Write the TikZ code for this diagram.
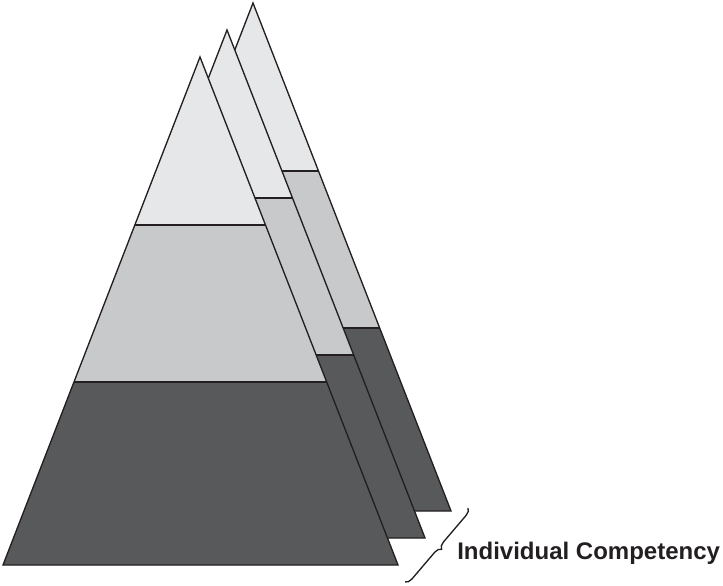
\documentclass[tikz,border=0pt]{standalone}
\usepackage{fontspec}
\setmainfont{Liberation Sans}
\usetikzlibrary{decorations.pathreplacing,positioning}
\definecolor{toplight}{HTML}{E6E7E8}
\definecolor{midgrey}{HTML}{C8C9CB}
\definecolor{basedark}{HTML}{58595B}
\definecolor{inkline}{HTML}{231F20}

\begin{document}
\begin{tikzpicture}[
  x=0.75pt, y=0.75pt,
  outline/.style={draw=inkline, line width=1pt, line join=miter},
  bandline/.style={draw=inkline, line width=1pt},
  brace/.style={draw=inkline, line width=1pt, decorate,
    decoration={brace, amplitude=5pt}},
  caption/.style={font=\fontsize{18}{21}\selectfont\bfseries, text=inkline, inner sep=0pt}
]
\useasboundingbox (0,0) rectangle (723,585);
% three pyramids, back to front
\foreach \dx/\dy in {53/54, 27/27, 0/0}{
  \begin{scope}[shift={(\dx,\dy)}]
    \begin{scope}
      \clip (200,528) -- (398,20) -- (3,20) -- cycle;
      \fill[toplight] (0,360) rectangle (400,540);
      \fill[midgrey] (0,203) rectangle (400,360);
      \fill[basedark] (0,15) rectangle (400,203);
      \draw[bandline] (0,360) -- (400,360);
      \draw[bandline] (0,203) -- (400,203);
    \end{scope}
    \draw[outline] (200,528) -- (398,20) -- (3,20) -- cycle;
  \end{scope}
}
% brace and label
\coordinate (braceTop) at (468,77);
\coordinate (braceBot) at (405,3);
\draw[brace] (braceTop) -- (braceBot);
\node[caption, anchor=west] (competency) at (457,32) {Individual Competency};
\end{tikzpicture}
\end{document}
